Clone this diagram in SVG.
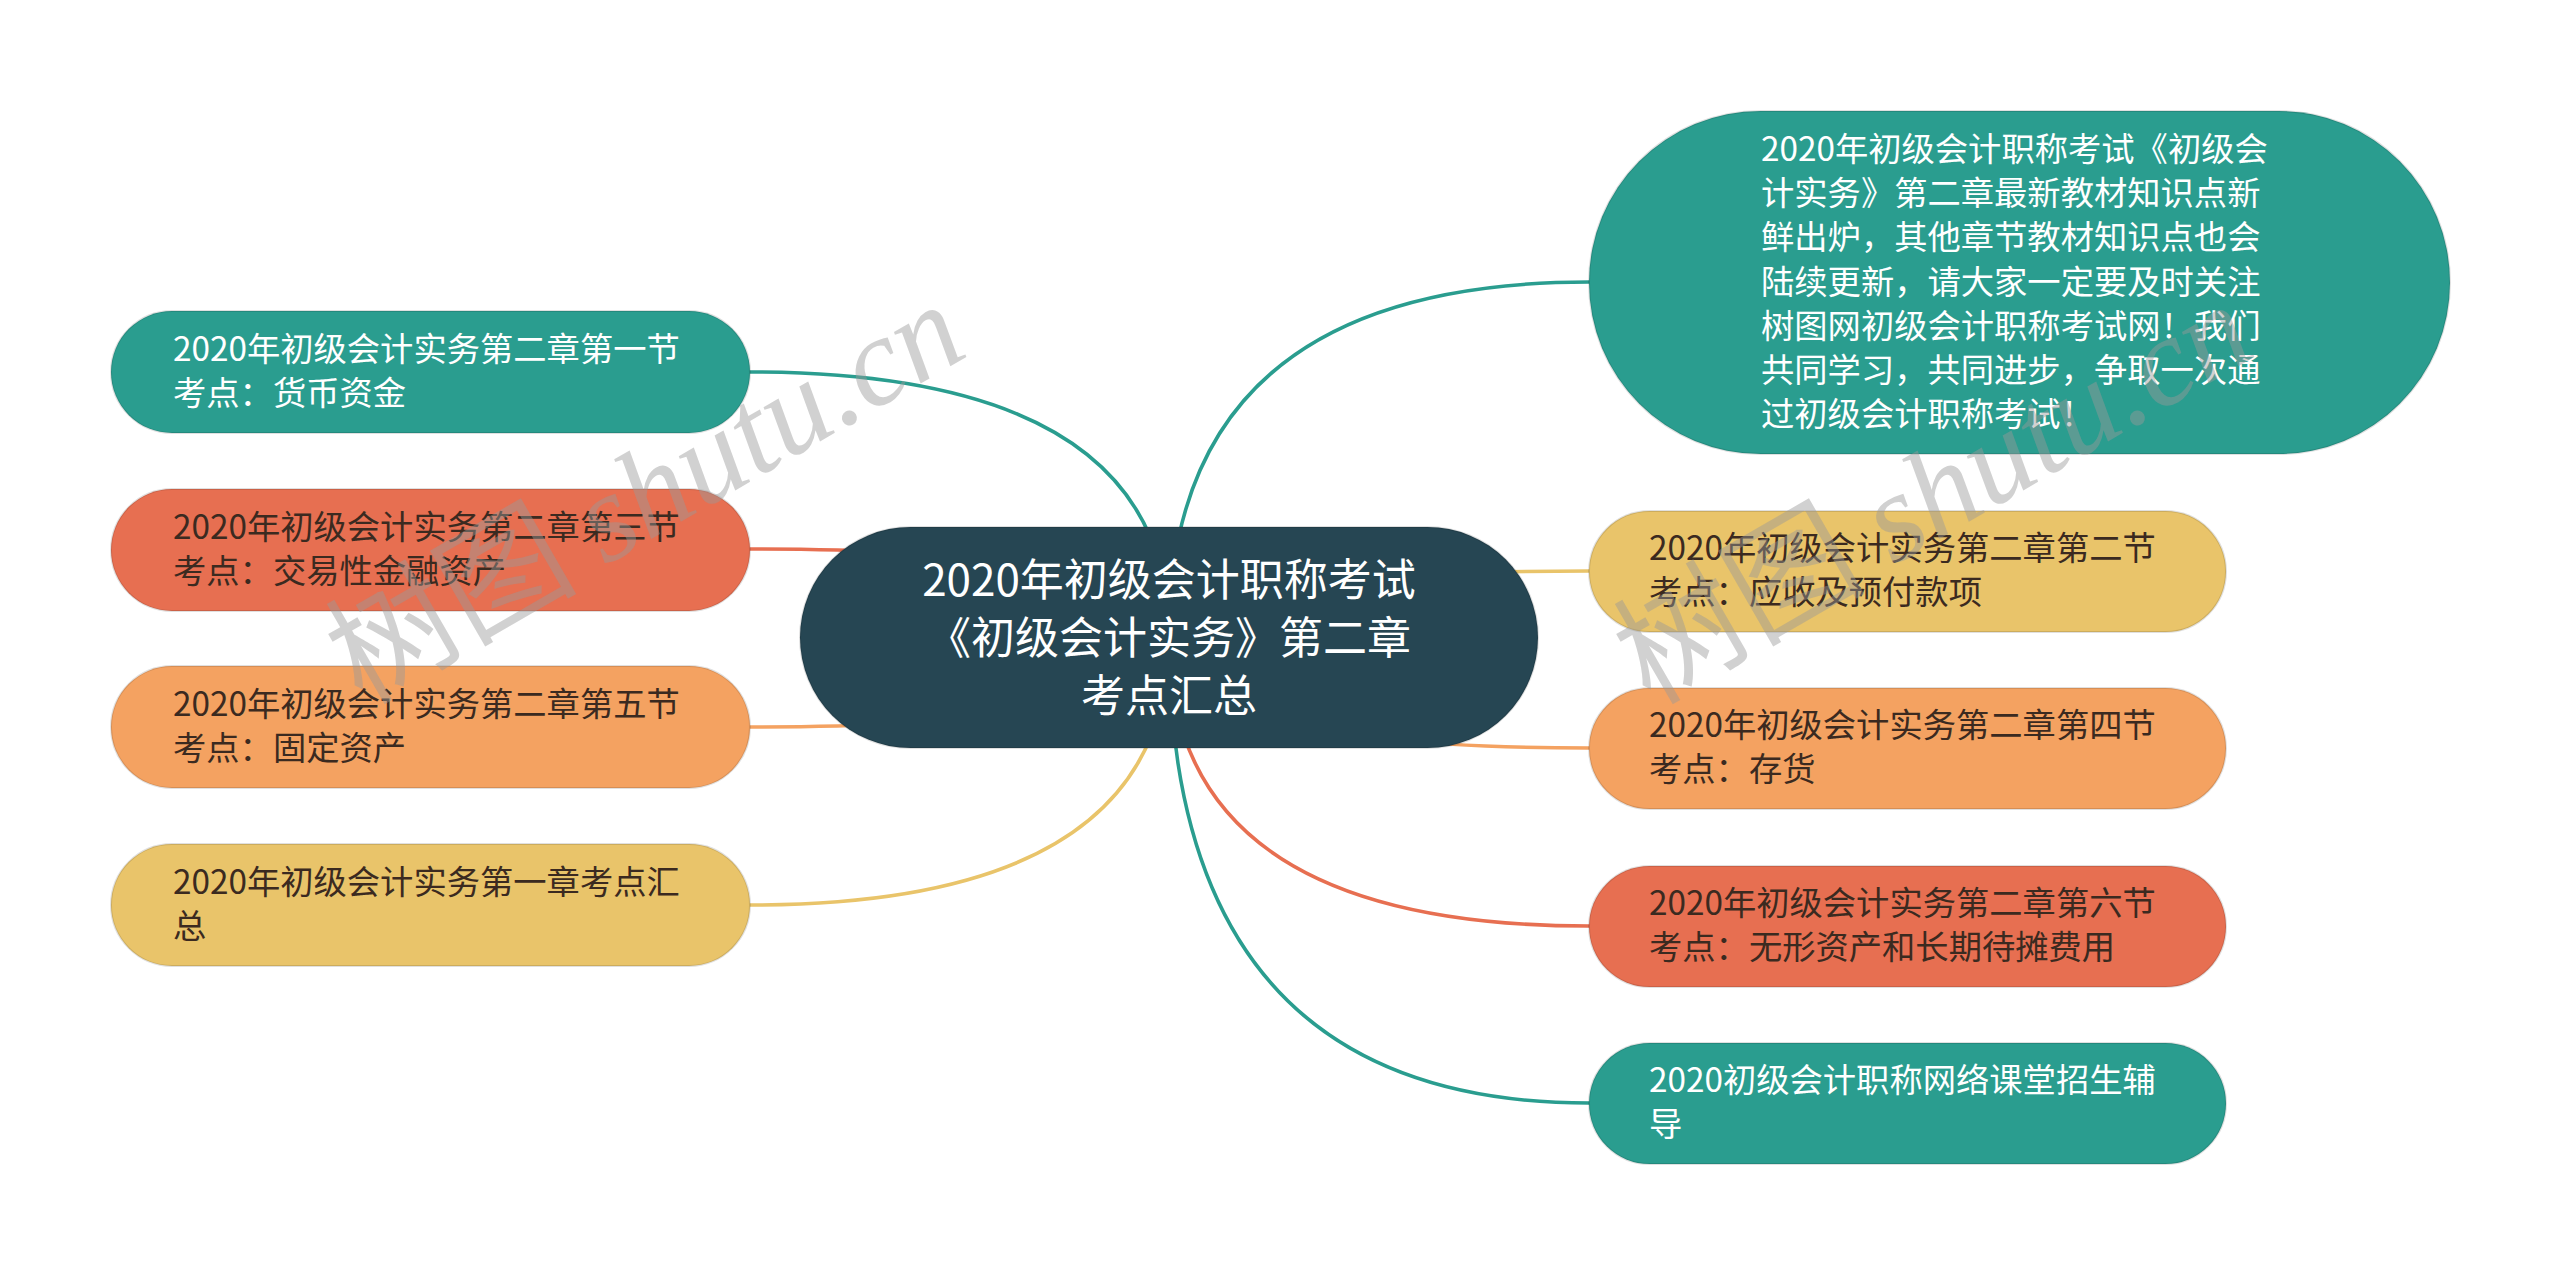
<svg xmlns="http://www.w3.org/2000/svg" width="2560" height="1276" viewBox="0 0 2560 1276">
<style>
.conn{fill:none;stroke-width:3.5;stroke-linecap:round}
.node{stroke:rgba(0,0,0,0.12);stroke-width:2}
.t{font-family:"Noto Sans CJK SC","Noto Sans CJK TC",sans-serif;font-size:33.3px}
.light{fill:#ffffff}
.dark{fill:#3b2a20}
.root{font-family:"Noto Sans CJK SC","Noto Sans CJK TC",sans-serif;font-size:44px;fill:#ffffff;text-anchor:middle}
.wm{font-size:126px;fill:#999999;fill-opacity:0.45}
.wmc{font-family:"Noto Sans CJK SC",sans-serif}
.wml{font-family:"Liberation Serif",serif;font-style:italic}
</style>
<rect width="2560" height="1276" fill="#ffffff"/>
<g id="connectors">
<path class="conn" stroke="#2A9D8F" d="M1169 637 Q1169 372 750 372"/>
<path class="conn" stroke="#E76F51" d="M1169 637 Q1169 549 750 549"/>
<path class="conn" stroke="#F4A261" d="M1169 637 Q1169 727 750 727"/>
<path class="conn" stroke="#E9C46A" d="M1169 637 Q1169 905 750 905"/>
<path class="conn" stroke="#2A9D8F" d="M1169 637 Q1169 282 1589 282"/>
<path class="conn" stroke="#E9C46A" d="M1169 637 Q1169 571 1589 571"/>
<path class="conn" stroke="#F4A261" d="M1169 637 Q1169 748 1589 748"/>
<path class="conn" stroke="#E76F51" d="M1169 637 Q1169 926 1589 926"/>
<path class="conn" stroke="#2A9D8F" d="M1169 637 Q1169 1103 1589 1103"/>
</g>
<g id="root">
<rect class="node" x="800" y="527" width="738" height="221" rx="110.5" fill="#264653"/>
<text class="root" x="1169" y="596">2020年初级会计职称考试</text>
<text class="root" x="1169" y="654">《初级会计实务》第二章</text>
<text class="root" x="1169" y="712">考点汇总</text>
</g>
<g id="n-l1">
<rect class="node" x="111" y="311" width="639" height="122" rx="61" fill="#2A9D8F"/>
<text class="t light" x="173" y="361">2020年初级会计实务第二章第一节</text>
<text class="t light" x="173" y="405">考点：货币资金</text>
</g>
<g id="n-l2">
<rect class="node" x="111" y="489" width="639" height="122" rx="61" fill="#E76F51"/>
<text class="t dark" x="173" y="539">2020年初级会计实务第二章第三节</text>
<text class="t dark" x="173" y="583">考点：交易性金融资产</text>
</g>
<g id="n-l3">
<rect class="node" x="111" y="666" width="639" height="122" rx="61" fill="#F4A261"/>
<text class="t dark" x="173" y="716">2020年初级会计实务第二章第五节</text>
<text class="t dark" x="173" y="760">考点：固定资产</text>
</g>
<g id="n-l4">
<rect class="node" x="111" y="844" width="639" height="122" rx="61" fill="#E9C46A"/>
<text class="t dark" x="173" y="894">2020年初级会计实务第一章考点汇</text>
<text class="t dark" x="173" y="938">总</text>
</g>
<g id="n-r1">
<rect class="node" x="1589" y="111" width="861" height="343" rx="171.5" fill="#2A9D8F"/>
<text class="t light" x="1761" y="161">2020年初级会计职称考试《初级会</text>
<text class="t light" x="1761" y="205">计实务》第二章最新教材知识点新</text>
<text class="t light" x="1761" y="249">鲜出炉，其他章节教材知识点也会</text>
<text class="t light" x="1761" y="294">陆续更新，请大家一定要及时关注</text>
<text class="t light" x="1761" y="338">树图网初级会计职称考试网！我们</text>
<text class="t light" x="1761" y="382">共同学习，共同进步，争取一次通</text>
<text class="t light" x="1761" y="426">过初级会计职称考试！</text>
</g>
<g id="n-r2">
<rect class="node" x="1589" y="511" width="637" height="121" rx="60.5" fill="#E9C46A"/>
<text class="t dark" x="1649" y="560">2020年初级会计实务第二章第二节</text>
<text class="t dark" x="1649" y="604">考点：应收及预付款项</text>
</g>
<g id="n-r3">
<rect class="node" x="1589" y="688" width="637" height="121" rx="60.5" fill="#F4A261"/>
<text class="t dark" x="1649" y="737">2020年初级会计实务第二章第四节</text>
<text class="t dark" x="1649" y="781">考点：存货</text>
</g>
<g id="n-r4">
<rect class="node" x="1589" y="866" width="637" height="121" rx="60.5" fill="#E76F51"/>
<text class="t dark" x="1649" y="915">2020年初级会计实务第二章第六节</text>
<text class="t dark" x="1649" y="959">考点：无形资产和长期待摊费用</text>
</g>
<g id="n-r5">
<rect class="node" x="1589" y="1043" width="637" height="121" rx="60.5" fill="#2A9D8F"/>
<text class="t light" x="1649" y="1092">2020初级会计职称网络课堂招生辅</text>
<text class="t light" x="1649" y="1136">导</text>
</g>
<g id="watermark">
<text class="wm" transform="translate(362 706) rotate(-30)"><tspan class="wmc">树图 </tspan><tspan class="wml">shutu.cn</tspan></text>
<text class="wm" transform="translate(1650 706) rotate(-30)"><tspan class="wmc">树图 </tspan><tspan class="wml">shutu.cn</tspan></text>
</g>
</svg>
